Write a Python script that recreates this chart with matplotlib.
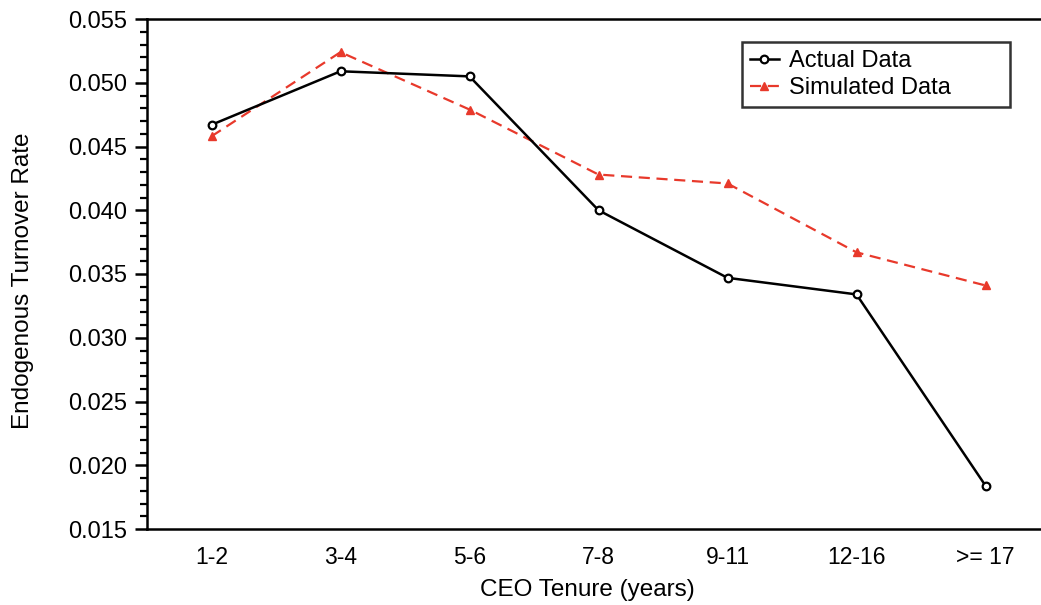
import matplotlib
matplotlib.use("Agg")
import matplotlib.pyplot as plt
from matplotlib.ticker import MultipleLocator, FormatStrFormatter

categories = ["1-2", "3-4", "5-6", "7-8", "9-11", "12-16", ">= 17"]
actual = [0.0467, 0.0509, 0.0505, 0.0400, 0.0347, 0.0334, 0.0184]
simulated = [0.0458, 0.0524, 0.0479, 0.0428, 0.0421, 0.0367, 0.0341]

plt.rcParams['font.family'] = ['Liberation Sans', 'DejaVu Sans']

W, H = 1041, 605
fig = plt.figure(figsize=(W / 100, H / 100), dpi=100)
left, right, top, bottom = 147, 1050, 19, 529
aw, ah = right - left, bottom - top
ax = fig.add_axes([left / W, (H - bottom) / H, aw / W, ah / H])

x = list(range(len(categories)))
ax.plot(x, actual, color='black', lw=1.8, marker='o', ms=5.5, mfc='white',
        mec='black', mew=1.6, label='Actual Data', zorder=3)
ax.plot(x, simulated, color='#e8392b', lw=1.6, ls=(0, (5, 3)), marker='^', ms=6,
        mfc='#e8392b', mec='#e8392b', label='Simulated Data', zorder=2)

ax.set_xlim(-0.5, 6.5)
ax.set_ylim(0.015, 0.055)
ax.set_xticks(x)
ax.set_xticklabels(categories)
ax.yaxis.set_major_locator(MultipleLocator(0.005))
ax.yaxis.set_minor_locator(MultipleLocator(0.001))
ax.yaxis.set_major_formatter(FormatStrFormatter('%.3f'))
ax.tick_params(axis='y', which='major', length=9, width=1.8, labelsize=17, direction='out', pad=5)
ax.tick_params(axis='y', which='minor', length=5, width=1.6, direction='out')
ax.tick_params(axis='x', which='both', length=0, labelsize=16.5, pad=12)

ax.spines['right'].set_visible(False)
for s in ['left', 'top', 'bottom']:
    ax.spines[s].set_linewidth(1.8)

ax.set_ylabel('Endogenous Turnover Rate', fontsize=17.5, va='center')
ax.set_xlabel('CEO Tenure (years)', fontsize=17.5, va='center')
ax.yaxis.set_label_coords((23 - left) / aw, (bottom - 281) / ah)
ax.xaxis.set_label_coords((587 - left) / aw, (bottom - 590) / ah)

lx0 = (742 - left) / aw
lx1 = (1010 - left) / aw
ly1 = (bottom - 42) / ah
ly0 = (bottom - 108) / ah
leg = ax.legend(loc='upper left', bbox_to_anchor=(lx0, ly0, lx1 - lx0, ly1 - ly0), mode='expand',
                fontsize=17, frameon=True, fancybox=False, handlelength=1.2,
                handletextpad=0.45, borderpad=0.35, labelspacing=0.2, borderaxespad=0)
leg.get_frame().set_edgecolor('black')
leg.get_frame().set_linewidth(1.8)

fig.savefig('out.png', dpi=100)
